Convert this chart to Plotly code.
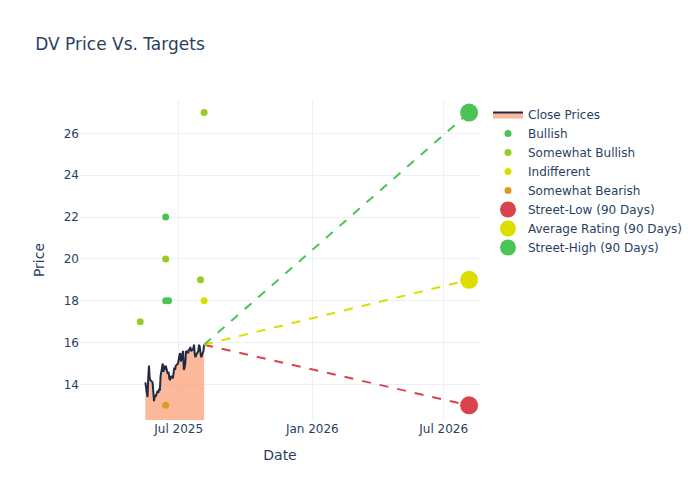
import pandas as pd
import plotly.graph_objs as go

# close prices (business days ending 2025-08-05)
close = [14.1, 13.4, 14.3, 14.9, 14.3, 14.2, 14.1, 13.6, 13.2, 13.5,
         13.4, 13.7, 13.6, 13.8, 13.7, 14.4, 15.0, 14.6, 14.9, 14.7,
         14.9, 14.5, 14.6, 14.3, 14.2, 14.4, 14.3, 14.6, 14.8, 14.7,
         14.9, 15.0, 15.4, 15.4, 15.5, 15.1, 15.6, 14.7, 14.8, 15.0,
         15.6, 15.5, 15.7, 15.6, 15.8, 15.6, 15.7, 15.9, 15.5, 15.3,
         15.4, 15.6, 15.9, 15.8, 15.5, 15.3, 15.6, 15.9]
dates = pd.bdate_range(end='2025-08-05', periods=len(close))

bullish_dates = ['2025-06-13', '2025-06-13', '2025-06-17']
bullish_vals = [22, 18, 18]
sbull_dates = ['2025-05-09', '2025-06-13', '2025-07-31', '2025-08-05']
sbull_vals = [17, 20, 19, 27]
indiff_dates = ['2025-08-05']
indiff_vals = [18]
sbear_dates = ['2025-06-13']
sbear_vals = [13]

target_date = '2026-08-05'
street_low = 13
avg_rating = 19
street_high = 27

last_date = dates[-1]
last_close = close[-1]

data = [
    go.Scatter(x=dates, y=close, mode='lines', name='Close Prices',
               line=dict(color='#1f2a44', width=2),
               fill='tozeroy', fillcolor='rgba(250,160,120,0.75)'),
    go.Scatter(x=bullish_dates, y=bullish_vals, mode='markers', name='Bullish',
               marker=dict(color='#4cc455', size=7)),
    go.Scatter(x=sbull_dates, y=sbull_vals, mode='markers', name='Somewhat Bullish',
               marker=dict(color='#99cc22', size=7)),
    go.Scatter(x=indiff_dates, y=indiff_vals, mode='markers', name='Indifferent',
               marker=dict(color='#dddd00', size=7)),
    go.Scatter(x=sbear_dates, y=sbear_vals, mode='markers', name='Somewhat Bearish',
               marker=dict(color='#dd9922', size=7)),
    go.Scatter(x=[last_date, target_date], y=[last_close, street_low], mode='lines',
               line=dict(color='#d9434c', dash='dash', width=2), showlegend=False),
    go.Scatter(x=[last_date, target_date], y=[last_close, avg_rating], mode='lines',
               line=dict(color='#dddd00', dash='dash', width=2), showlegend=False),
    go.Scatter(x=[last_date, target_date], y=[last_close, street_high], mode='lines',
               line=dict(color='#4cc455', dash='dash', width=2), showlegend=False),
    go.Scatter(x=[target_date], y=[street_low], mode='markers', name='Street-Low (90 Days)',
               marker=dict(color='#d9434c', size=18)),
    go.Scatter(x=[target_date], y=[avg_rating], mode='markers', name='Average Rating (90 Days)',
               marker=dict(color='#dddd00', size=18)),
    go.Scatter(x=[target_date], y=[street_high], mode='markers', name='Street-High (90 Days)',
               marker=dict(color='#4cc455', size=18)),
]

layout = go.Layout(
    title=dict(text='DV Price Vs. Targets', x=0.039, y=0.94),
    template='plotly_white',
    width=700, height=500,
    margin=dict(l=72, r=228, t=92, b=88),
    font=dict(family='DejaVu Sans'),
    xaxis=dict(title='Date', range=['2025-02-15', '2026-08-20'], dtick='M6'),
    yaxis=dict(title='Price', range=[12.3, 27.6]),
)

fig = go.Figure(data=data, layout=layout)
fig.write_html("out.html")
